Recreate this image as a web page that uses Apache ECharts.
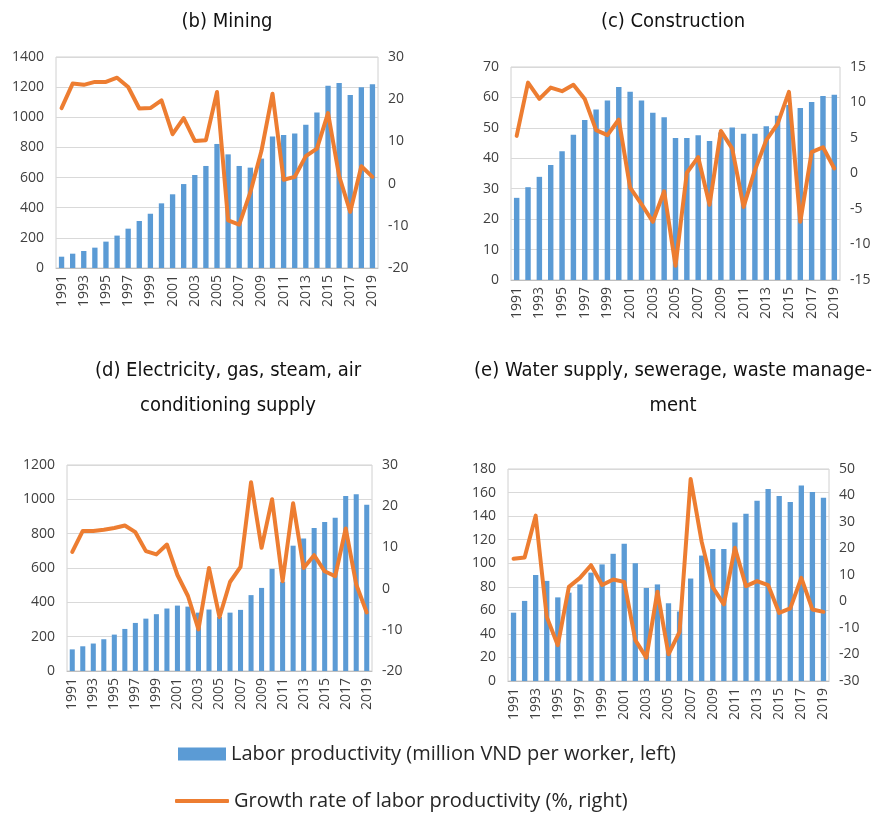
<!DOCTYPE html>
<html>
<head>
<meta charset="utf-8">
<script src="https://cdn.jsdelivr.net/npm/echarts@6/dist/echarts.min.js"></script>
<style>
  html, body { margin: 0; padding: 0; background: #fff; }
  #chart { width: 882px; height: 815px; }
</style>
</head>
<body>
<div id="chart"></div>
<script>
// categories
const years = ['1991','1992','1993','1994','1995','1996','1997','1998','1999','2000',
  '2001','2002','2003','2004','2005','2006','2007','2008','2009','2010',
  '2011','2012','2013','2014','2015','2016','2017','2018','2019'];

// (b) Mining
const miningLP = [75, 95, 113, 135, 175, 215, 261, 312, 360, 429, 489, 557, 617, 677, 823,
  754, 677, 666, 726, 872, 883, 892, 951, 1031, 1210, 1228, 1148, 1199, 1219];
const miningGR = [17.9, 23.7, 23.4, 24.1, 24.1, 25.1, 22.9, 17.8, 17.9, 19.7, 11.7, 15.5, 10.1, 10.3, 21.7,
  -8.7, -9.7, -2.1, 7.7, 21.3, 0.9, 1.6, 6.5, 8.3, 16.7, 1.8, -6.7, 4.1, 1.6];

// (c) Construction
const constrLP = [27.0, 30.5, 33.9, 37.8, 42.3, 47.7, 52.6, 56.0, 59.0, 63.4, 61.9, 59.0, 55.0, 53.5, 46.7,
  46.7, 47.6, 45.7, 48.5, 50.1, 48.1, 48.1, 50.5, 54.0, 57.5, 56.5, 58.5, 60.5, 60.9];
const constrGR = [5.3, 12.8, 10.5, 12.1, 11.6, 12.5, 10.5, 6.1, 5.4, 7.6, -2.0, -4.3, -6.8, -2.5, -13.0,
  0.1, 2.3, -4.4, 6.0, 3.5, -4.7, 0.5, 4.7, 7.0, 11.5, -6.8, 3.0, 3.7, 0.7];

// (d) Electricity, gas, steam, air conditioning supply
const elecLP = [126, 144, 160, 185, 212, 245, 280, 305, 331, 364, 381, 375, 340, 358, 315,
  340, 356, 442, 484, 595, 520, 730, 772, 833, 868, 893, 1019, 1029, 969];
const elecGR = [8.9, 14.0, 14.0, 14.3, 14.7, 15.3, 13.7, 9.1, 8.3, 10.7, 3.3, -1.8, -9.9, 5.0, -6.9,
  1.6, 5.3, 25.8, 9.9, 21.7, 1.8, 20.7, 5.0, 8.1, 4.2, 3.0, 14.6, 1.0, -5.8];

// (e) Water supply, sewerage, waste management
const waterLP = [58, 68, 90, 85, 71, 75, 82, 92, 99, 108, 116.5, 100, 79, 82, 66,
  59, 87, 106.5, 112, 112, 134.5, 142, 153, 163, 157, 152, 166, 160.5, 155.5];
const waterGR = [16.1, 16.6, 32.4, -5.8, -16.5, 5.5, 8.9, 13.7, 6.2, 8.3, 7.4, -14.6, -21.2, 3.7, -19.9,
  -11.5, 46.2, 22.5, 5.3, -1.1, 20.3, 5.8, 7.7, 6.2, -4.3, -2.6, 8.9, -3.0, -3.9];

// axis ranges (tick labels)
const leftMax = [1400, 70, 1200, 180];
const leftStep = [200, 10, 200, 20];
const rightMin = [-20, -15, -20, -30];
const rightMax = [30, 15, 30, 50];
const rightStep = [10, 5, 10, 10];

const titles = ['(b) Mining', '(c) Construction',
  '(d) Electricity, gas, steam, air\nconditioning supply',
  '(e) Water supply, sewerage, waste manage-\nment'];

const barName = 'Labor productivity (million VND per worker, left)';
const lineName = 'Growth rate of labor productivity (%, right)';

const lpData = [miningLP, constrLP, elecLP, waterLP];
const grData = [miningGR, constrGR, elecGR, waterGR];

const narrow = "'DejaVu Sans Condensed', 'DejaVu Sans', sans-serif";
const labelFont = "'Open Sans', 'Noto Sans', sans-serif";
const labelColor = '#404040';

const myChart = echarts.init(document.getElementById('chart'));

let grids = [
  {left: 56, top: 57, width: 322, height: 211},
  {left: 511, top: 67, width: 329, height: 213},
  {left: 67, top: 465, width: 305, height: 206},
  {left: 508, top: 469, width: 321, height: 212}
];
grids.forEach(g => { g.show = true; g.borderColor = '#d0d0d0'; g.borderWidth = 1; });

let titlePos = [
  {left: 222, top: -1},
  {left: 668, top: -1},
  {left: 223, top: 348},
  {left: 668, top: 348}
];

let xAxis = [], yAxis = [], series = [], title = [];
for (let i = 0; i < 4; i++) {
  title.push({
    text: titles[i],
    left: titlePos[i].left,
    top: titlePos[i].top,
    textAlign: 'center',
    // "condensed" lands in the canvas font shorthand as font-stretch
    textStyle: {fontFamily: narrow, fontStyle: 'condensed', fontSize: 20, fontWeight: 'normal', color: '#111', lineHeight: 35}
  });
  xAxis.push({
    type: 'category',
    gridIndex: i,
    data: years,
    boundaryGap: true,
    axisTick: {show: false},
    axisLine: {lineStyle: {color: '#bfbfbf'}},
    axisLabel: {rotate: 90, interval: 1, fontFamily: labelFont, fontSize: 14, color: labelColor, margin: 7}
  });
  yAxis.push({
    type: 'value',
    gridIndex: i,
    min: 0,
    max: leftMax[i],
    interval: leftStep[i],
    axisLine: {show: false},
    axisTick: {show: false},
    splitLine: {lineStyle: {color: '#d9d9d9'}},
    axisLabel: {fontFamily: labelFont, fontSize: 14, color: labelColor, margin: 12, formatter: v => String(v)}
  });
  yAxis.push({
    type: 'value',
    gridIndex: i,
    position: 'right',
    min: rightMin[i],
    max: rightMax[i],
    interval: rightStep[i],
    axisLine: {show: false},
    axisTick: {show: false},
    splitLine: {show: false},
    axisLabel: {fontFamily: labelFont, fontSize: 14, color: labelColor, margin: 10, formatter: v => String(v)}
  });
  series.push({
    name: barName,
    type: 'bar',
    xAxisIndex: i,
    yAxisIndex: 2 * i,
    data: lpData[i],
    barWidth: '48%',
    itemStyle: {color: '#5b9bd5'}
  });
  series.push({
    name: lineName,
    type: 'line',
    xAxisIndex: i,
    yAxisIndex: 2 * i + 1,
    data: grData[i],
    symbol: 'none',
    z: 3,
    itemStyle: {color: '#ed7d31'},
    lineStyle: {color: '#ed7d31', width: 4, cap: 'round', join: 'round'}
  });
}

let option = {
  animation: false,
  backgroundColor: '#fff',
  title: title,
  grid: grids,
  xAxis: xAxis,
  yAxis: yAxis,
  legend: [
    {
      left: 173, top: 739,
      data: [{name: barName, icon: 'rect'}],
      itemWidth: 48, itemHeight: 13,
      textStyle: {fontFamily: labelFont, fontSize: 20, color: '#262626'},
      selectedMode: false
    },
    {
      left: 170, top: 786,
      data: [{name: lineName, icon: 'roundRect'}],
      itemWidth: 54, itemHeight: 4,
      textStyle: {fontFamily: labelFont, fontSize: 20, color: '#262626'},
      selectedMode: false
    }
  ],
  series: series
};
myChart.setOption(option);
</script>
</body>
</html>
